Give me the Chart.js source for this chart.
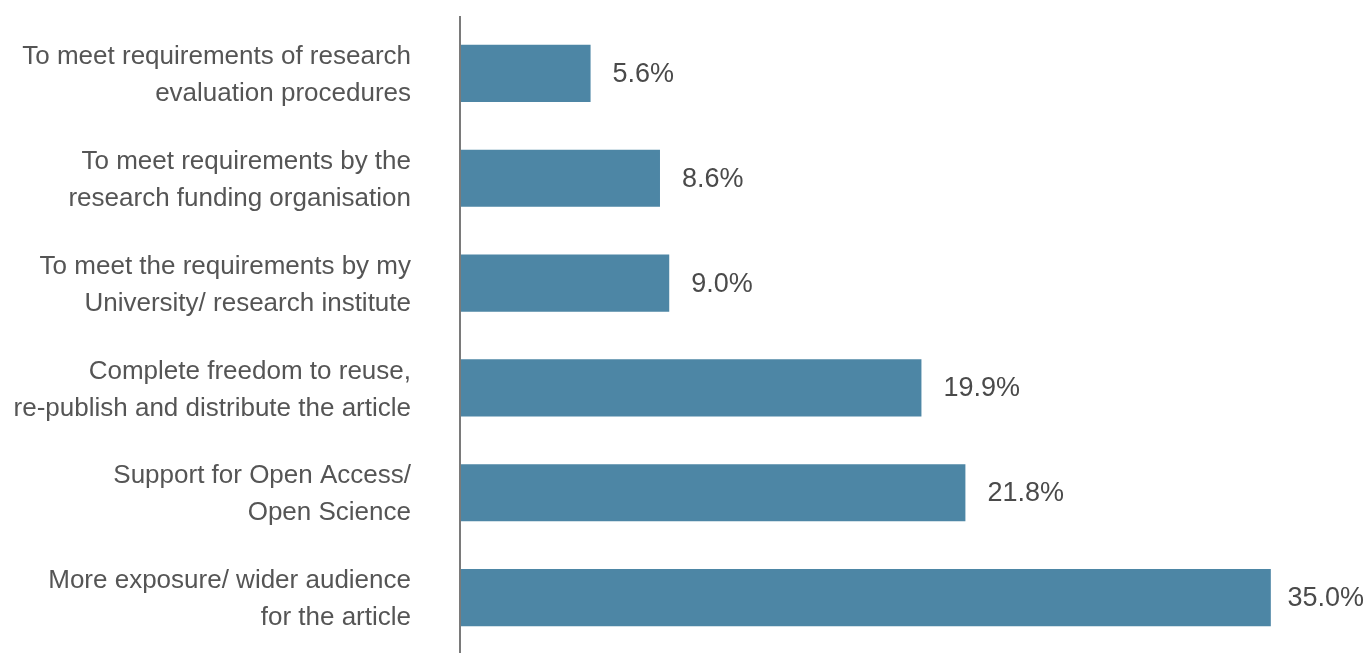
<!DOCTYPE html>
<html>
<head>
<meta charset="utf-8">
<script src="https://cdn.jsdelivr.net/npm/chart.js@4/dist/chart.umd.min.js"></script>
<style>
  html, body { margin: 0; padding: 0; background: #fff; }
  #wrap { width: 1368px; height: 653px; position: relative; }
</style>
</head>
<body>
<div id="wrap"><canvas id="reasons-chart"></canvas></div>
<script>
var categories = [
  ['To meet requirements of research', 'evaluation procedures'],
  ['To meet requirements by the', 'research funding organisation'],
  ['To meet the requirements by my', 'University/ research institute'],
  ['Complete freedom to reuse,', 're-publish and distribute the article'],
  ['Support for Open Access/', 'Open Science'],
  ['More exposure/ wider audience', 'for the article']
];
var shares = [5.6, 8.6, 9.0, 19.9, 21.8, 35.0];

var FONT = "'Liberation Sans', Arial, sans-serif";

// percentage printed just past the end of each bar, kept inside the canvas
var valueLabels = {
  id: 'valueLabels',
  afterDatasetsDraw: function (chart) {
    var ctx = chart.ctx;
    var meta = chart.getDatasetMeta(0);
    ctx.save();
    ctx.font = '27px ' + FONT;
    ctx.fillStyle = '#4a4a4a';
    ctx.textAlign = 'left';
    ctx.textBaseline = 'middle';
    meta.data.forEach(function (bar, i) {
      var text = shares[i].toFixed(1) + '%';
      var w = ctx.measureText(text).width;
      var x = Math.min(bar.x + 22, chart.width - w - 4);
      ctx.fillText(text, x, bar.y + 1);
    });
    ctx.restore();
  }
};

// vertical baseline, running a little past the plot area
var baseline = {
  id: 'baseline',
  beforeDatasetsDraw: function (chart) {
    var ctx = chart.ctx;
    var x = chart.scales.x.left;
    ctx.save();
    ctx.strokeStyle = '#7a7a7a';
    ctx.lineWidth = 2;
    ctx.beginPath();
    ctx.moveTo(x - 1, chart.chartArea.top - 5);
    ctx.lineTo(x - 1, chart.height);
    ctx.stroke();
    ctx.restore();
  }
};

var ctx = document.getElementById('reasons-chart').getContext('2d');
new Chart(ctx, {
  type: 'bar',
  data: {
    labels: categories,
    datasets: [{
      data: shares,
      backgroundColor: '#4d86a5',
      barPercentage: 0.545,
      categoryPercentage: 1.0
    }]
  },
  options: {
    indexAxis: 'y',
    responsive: true,
    maintainAspectRatio: false,
    animation: false,
    layout: { padding: { top: 21, bottom: 3, left: 0, right: 0 } },
    plugins: {
      legend: { display: false },
      tooltip: { enabled: false }
    },
    scales: {
      x: {
        display: false,
        min: 0,
        max: 39.2
      },
      y: {
        grid: { display: false, drawTicks: false },
        border: { display: false },
        ticks: {
          padding: 50,
          labelOffset: 2,
          color: '#555555',
          font: { family: FONT, size: 26, lineHeight: 1.42 }
        },
        afterFit: function (scale) {
          scale.width = 461;
          // labels may hang past the plot edges; don't shrink the plot for them
          scale.paddingTop = 0;
          scale.paddingBottom = 0;
        }
      }
    }
  },
  plugins: [baseline, valueLabels]
});
</script>
</body>
</html>
